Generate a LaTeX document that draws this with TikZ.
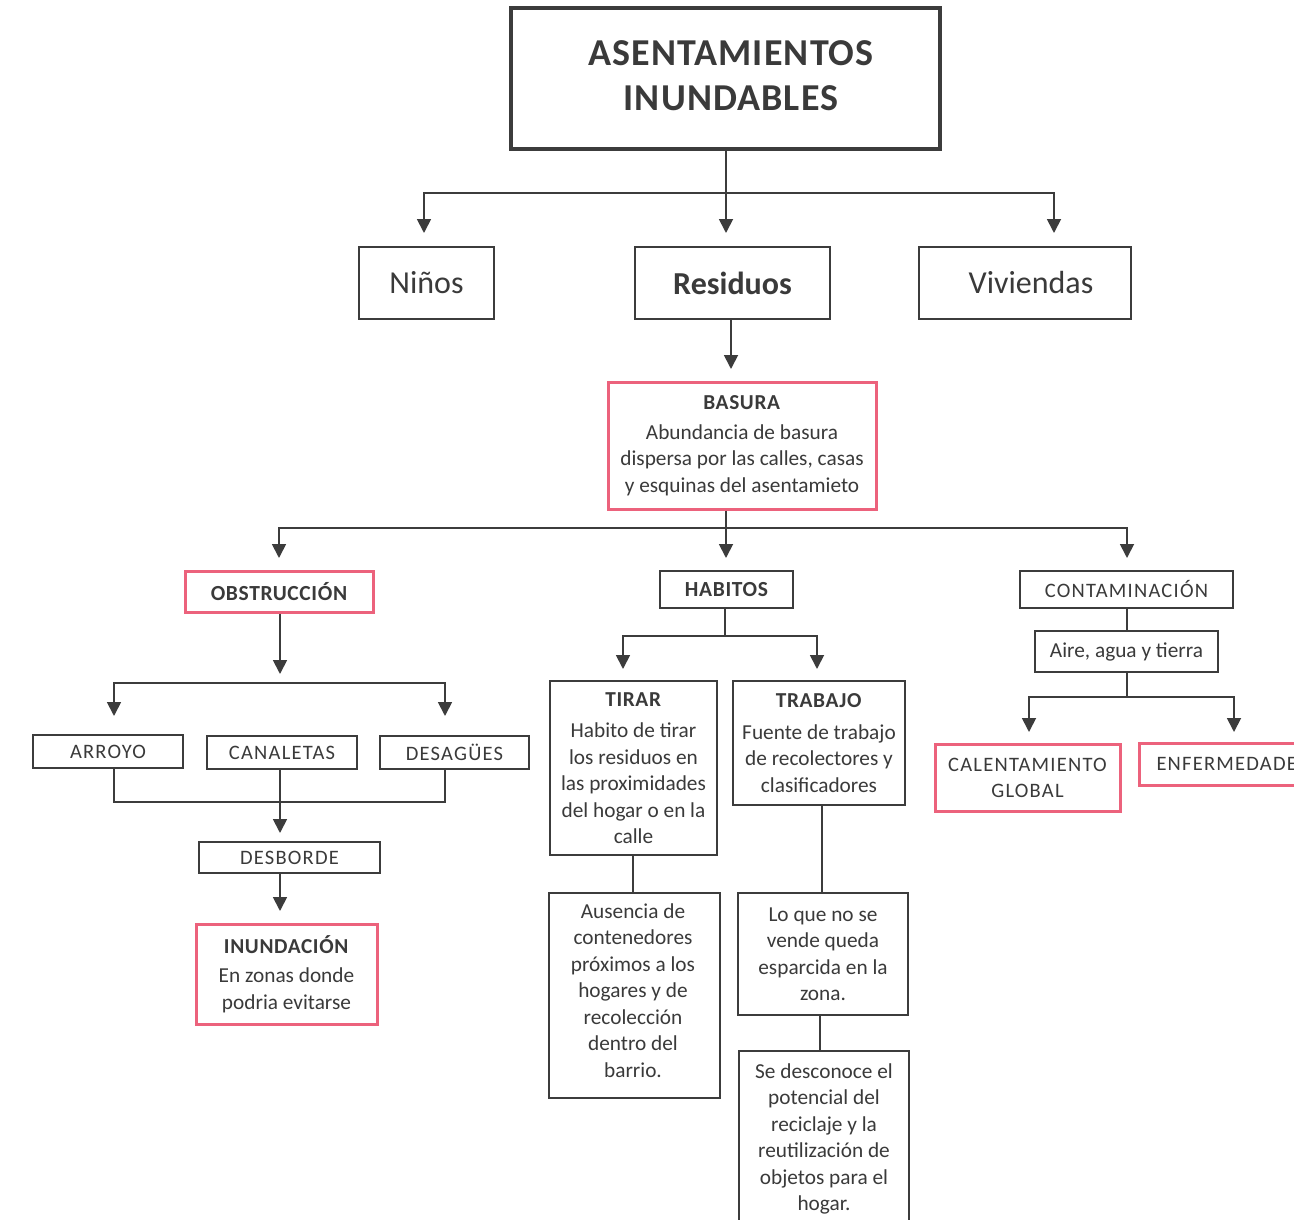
\documentclass[tikz,border=0pt]{standalone}
\usepackage{fontspec}
\setmainfont{Carlito}
\newfontfamily\spc[LetterSpace=6]{Carlito}
\newfontfamily\spt[LetterSpace=3]{Carlito}
\usetikzlibrary{arrows.meta}
\definecolor{linec}{RGB}{60,60,60}
\definecolor{textc}{RGB}{58,58,58}
\definecolor{pinkc}{RGB}{236,98,124}
\tikzset{
  box/.style={draw=linec, line width=1.6pt, inner sep=0pt, align=center, text=textc, fill=white},
  pinkbox/.style={box, draw=pinkc, line width=3pt},
  conn/.style={draw=linec, line width=1.8pt},
  arr/.style={conn, -{Triangle[width=14pt,length=14pt]}},
  body/.style={font=\fontsize{21.3}{26.5}\selectfont},
  lab/.style={font=\spc\fontsize{20.5}{24}\selectfont},
  blab/.style={font=\spt\bfseries\fontsize{21.5}{24}\selectfont},
}
\begin{document}
\begin{tikzpicture}[x=1pt,y=-1pt]
\useasboundingbox (0,0) rectangle (1294,1220);
\clip (0,0) rectangle (1294,1220);
\fill[white] (0,0) rectangle (1294,1220);

% nodes
\node[box, line width=3.5pt, minimum width=429pt, minimum height=141pt] (title) at (725.5,78.5) {};
\node[align=center, text=textc, inner sep=0pt, font=\spt\bfseries\fontsize{38}{45}\selectfont] (titletext) at (731,75.5) {ASENTAMIENTOS\\INUNDABLES};
\node[box, minimum width=135pt, minimum height=72pt, font=\fontsize{32}{36}\selectfont] (ninos) at (426.5,283) {Niños};
\node[box, minimum width=195pt, minimum height=72pt, font=\bfseries\fontsize{32}{36}\selectfont] (resid) at (732.5,283) {Residuos};
\node[box, minimum width=212pt, minimum height=72pt, font=\fontsize{32}{36}\selectfont] (vivi) at (1025,283) {\hspace*{12pt}Viviendas};

\node[pinkbox, body, minimum width=268pt, minimum height=127pt] (basura) at (742,445.5)
  {\textbf{\spt BASURA}\\[3pt]Abundancia de basura\\dispersa por las calles, casas\\y esquinas del asentamieto};

\node[pinkbox, blab, minimum width=188pt, minimum height=41pt] (obst) at (279,591.5) {OBSTRUCCIÓN};
\node[box, blab, minimum width=133pt, minimum height=37pt] (habit) at (726.5,589.5) {HABITOS};
\node[box, lab, minimum width=213pt, minimum height=37pt] (contam) at (1126.5,589.5) {CONTAMINACIÓN};
\node[box, body, minimum width=183pt, minimum height=41pt] (aire) at (1126.5,651.5) {Aire, agua y tierra};
\node[pinkbox, lab, font=\spc\fontsize{20.5}{26}\selectfont, minimum width=185pt, minimum height=67pt] (calent) at (1027.5,777.5) {CALENTAMIENTO\\GLOBAL};
\node[pinkbox, lab, anchor=west, inner xsep=17pt, minimum height=42pt] (enferm) at (1138,764) {ENFERMEDADES};

\node[box, lab, minimum width=150pt, minimum height=33pt] (arroyo) at (108,751.5) {ARROYO};
\node[box, lab, minimum width=150pt, minimum height=33pt] (canal) at (282,752.5) {CANALETAS};
\node[box, lab, minimum width=149pt, minimum height=33pt] (desag) at (454.5,752.5) {DESAGÜES};
\node[box, lab, minimum width=181pt, minimum height=31pt] (desb) at (289.5,857.5) {DESBORDE};
\node[pinkbox, body, minimum width=181pt, minimum height=100pt] (inund) at (286.5,974)
  {\textbf{\spt INUNDACIÓN}\\[3pt]En zonas donde\\podria evitarse};

\node[box, body, minimum width=167pt, minimum height=174pt] (tirar) at (633.5,768)
  {\textbf{\spt TIRAR}\\[5pt]Habito de tirar\\los residuos en\\las proximidades\\del hogar o en la\\calle};
\node[box, body, minimum width=172pt, minimum height=124pt] (trabajo) at (819,743)
  {\textbf{\spt TRABAJO}\\[5pt]Fuente de trabajo\\de recolectores y\\clasificadores};
\node[box, minimum width=171pt, minimum height=205pt] (ausen) at (634.5,995.5) {};
\node[align=center, text=textc, inner sep=0pt, body] (ausentext) at (633,990.5)
  {Ausencia de\\contenedores\\próximos a los\\hogares y de\\recolección\\dentro del\\barrio.};
\node[box, body, minimum width=170pt, minimum height=122pt] (loque) at (823,954)
  {Lo que no se\\vende queda\\esparcida en la\\zona.};
\node[box, body, minimum width=170pt, minimum height=176pt] (sedesc) at (824,1139)
  {Se desconoce el\\potencial del\\reciclaje y la\\reutilización de\\objetos para el\\hogar.};

% coordinates
\coordinate (j1) at (726,193);
\coordinate (a1) at (424,233);
\coordinate (a2) at (726,233);
\coordinate (a3) at (1054,233);
\coordinate (a4) at (731,369);
\coordinate (j2) at (726,528);
\coordinate (b1) at (279,558);
\coordinate (b2) at (726,558);
\coordinate (b3) at (1127,558);
\coordinate (c0) at (280,674);
\coordinate (j3) at (280,683);
\coordinate (c1) at (114,716);
\coordinate (c2) at (445,716);
\coordinate (d2) at (280,802);
\coordinate (e1) at (280,833);
\coordinate (e2) at (280,911);
\coordinate (j4) at (725,636);
\coordinate (f1) at (623,669);
\coordinate (f2) at (817,669);
\coordinate (j5) at (1127,697);
\coordinate (h1) at (1029,732);
\coordinate (h2) at (1234,732);
\coordinate (k1) at (633,0);
\coordinate (k2) at (822,0);
\coordinate (k3) at (820,0);

% connectors
\draw[conn] (title.south -| j1) -- (j1);
\draw[arr] (j1) -| (a1);
\draw[arr] (j1) -- (a2);
\draw[arr] (j1) -| (a3);
\draw[arr] (resid.south -| a4) -- (a4);
\draw[conn] (basura.south -| j2) -- (j2);
\draw[arr] (j2) -| (b1);
\draw[arr] (j2) -- (b2);
\draw[arr] (j2) -| (b3);
\draw[arr] (obst.south -| c0) -- (c0);
\draw[arr] (j3) -| (c1);
\draw[arr] (j3) -| (c2);
\draw[conn] (arroyo.south -| c1) |- (d2) -| (desag.south -| c2);
\draw[arr] (canal.south -| d2) -- (e1);
\draw[arr] (desb.south -| e2) -- (e2);
\draw[conn] (habit.south -| j4) -- (j4);
\draw[arr] (j4) -| (f1);
\draw[arr] (j4) -| (f2);
\draw[conn] (tirar.south -| k1) -- (ausen.north -| k1);
\draw[conn] (trabajo.south -| k2) -- (loque.north -| k2);
\draw[conn] (loque.south -| k3) -- (sedesc.north -| k3);
\draw[conn] (contam.south -| j5) -- (aire.north -| j5);
\draw[conn] (aire.south -| j5) -- (j5);
\draw[arr] (j5) -| (h1);
\draw[arr] (j5) -| (h2);
\end{tikzpicture}
\end{document}
